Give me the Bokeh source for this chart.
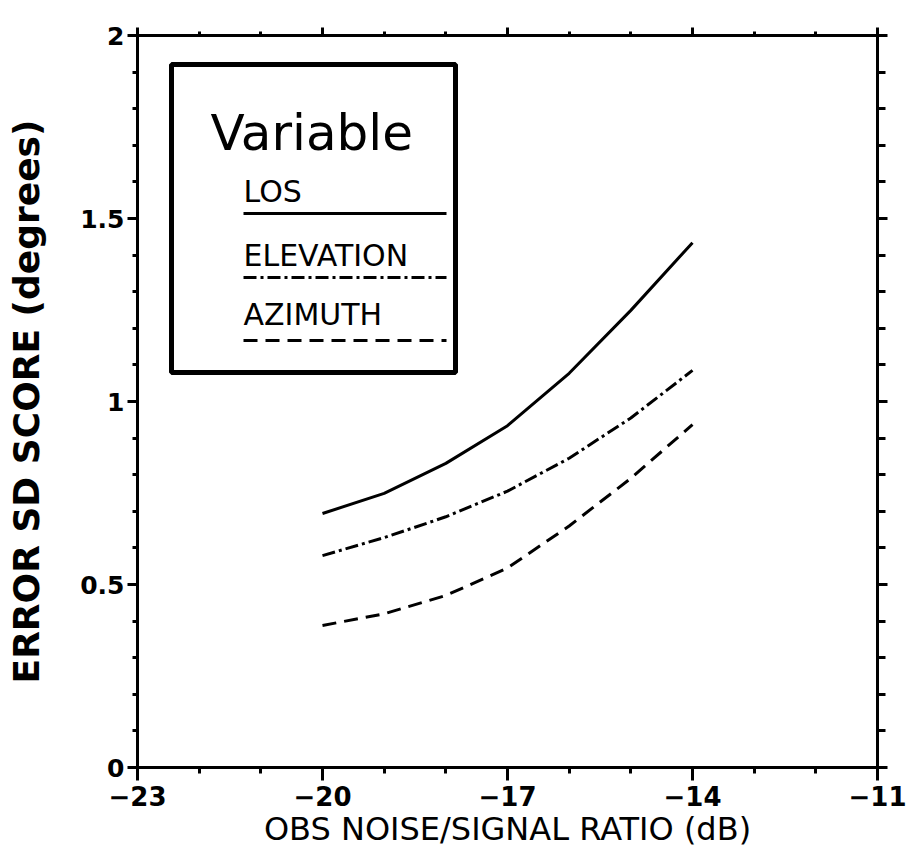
from bokeh.plotting import figure
from bokeh.models import LinearAxis, Range1d, FixedTicker, Label, BoxAnnotation
from bokeh.embed import file_html
from bokeh.resources import INLINE

# ---- data ----
noise_db = [-20, -19, -18, -17, -16, -15, -14]
los = [0.694, 0.749, 0.831, 0.934, 1.077, 1.249, 1.434]
elevation = [0.579, 0.628, 0.685, 0.755, 0.845, 0.955, 1.085]
azimuth = [0.388, 0.420, 0.470, 0.545, 0.660, 0.790, 0.937]

x_ticks = [-23, -20, -17, -14, -11]
x_tick_labels = ["\u221223", "\u221220", "\u221217", "\u221214", "\u221211"]
y_ticks = [0, 0.5, 1, 1.5, 2]
y_tick_labels = ["0", "0.5", "1", "1.5", "2"]
legend_title = "Variable"
legend_names = ["LOS", "ELEVATION", "AZIMUTH"]
legend_dashes = ["solid", "13 4 3 4", "14 8"]

FONT = "DejaVu Sans"

p = figure(width=906, height=854, output_backend="svg", toolbar_location=None,
           x_range=Range1d(-23, -11), y_range=Range1d(0, 2),
           x_axis_location=None, y_axis_location=None,
           min_border_left=137, min_border_right=29,
           min_border_top=35, min_border_bottom=87)
p.background_fill_color = "white"
p.border_fill_color = "white"
p.outline_line_color = "black"
p.outline_line_width = 3
p.xgrid.visible = False
p.ygrid.visible = False


def style_axis(ax, major_out, minor_out):
    ax.axis_line_width = 3
    ax.axis_line_color = "black"
    ax.major_tick_line_width = 3
    ax.minor_tick_line_width = 3
    ax.major_tick_in = 0
    ax.minor_tick_in = 0
    ax.major_tick_out = major_out
    ax.minor_tick_out = minor_out
    ax.major_label_text_font = FONT
    ax.major_label_text_font_style = "bold"
    ax.major_label_text_color = "black"


xt = FixedTicker(ticks=x_ticks, minor_ticks=list(range(-23, -10)))
yt = FixedTicker(ticks=y_ticks, minor_ticks=[i / 10 for i in range(0, 21)])

bottom = LinearAxis(ticker=xt)
style_axis(bottom, 13, 6)
bottom.major_label_overrides = dict(zip(x_ticks, x_tick_labels))
bottom.major_label_text_font_size = "26px"
bottom.major_label_standoff = 5
bottom.axis_label = "OBS NOISE/SIGNAL RATIO (dB)"
bottom.axis_label_text_font = FONT
bottom.axis_label_text_font_style = "normal"
bottom.axis_label_text_font_size = "32px"
bottom.axis_label_text_color = "black"
bottom.axis_label_standoff = 1
p.add_layout(bottom, "below")

left = LinearAxis(ticker=yt)
style_axis(left, 10, 5)
left.major_label_overrides = dict(zip(y_ticks, y_tick_labels))
left.major_label_text_font_size = "25px"
left.major_label_standoff = 3
left.axis_label = "ERROR SD SCORE (degrees)"
left.axis_label_text_font = FONT
left.axis_label_text_font_style = "bold"
left.axis_label_text_font_size = "36px"
left.axis_label_text_color = "black"
left.axis_label_standoff = 30
p.add_layout(left, "left")

top = LinearAxis(ticker=xt)
style_axis(top, 8, 4)
top.major_label_overrides = {t: "" for t in x_ticks}
p.add_layout(top, "above")

right = LinearAxis(ticker=yt)
style_axis(right, 10, 8)
right.major_label_overrides = {t: "" for t in y_ticks}
p.add_layout(right, "right")

# ---- legend box (positions given in pixels, converted to data space) ----
def px2x(px):
    return -23 + (px - 137) * 12 / 740.0


def py2y(py):
    return (767 - py) * 2 / 732.0


p.add_layout(BoxAnnotation(left=px2x(171), right=px2x(455), top=py2y(64), bottom=py2y(372),
                           fill_color="white", fill_alpha=0.0, line_color="black",
                           line_alpha=1.0, line_width=5, level="underlay"))
p.add_layout(Label(x=px2x(210), y=py2y(132), text=legend_title, text_font=FONT,
                   text_font_size="50px", text_color="black",
                   text_align="left", text_baseline="alphabetic"))

label_base = [191, 255, 314]
line_y = [213, 277, 340]
for name, dash, by, ly in zip(legend_names, legend_dashes, label_base, line_y):
    p.add_layout(Label(x=px2x(243), y=py2y(by), text=name, text_font=FONT,
                       text_font_size="30px", text_color="black",
                       text_align="left", text_baseline="alphabetic"))
    p.line([px2x(243), px2x(446)], [py2y(ly), py2y(ly)], line_color="black",
           line_width=3, line_dash=dash)

# ---- curves ----
p.line(noise_db, los, line_color="black", line_width=3, line_dash=legend_dashes[0])
p.line(noise_db, elevation, line_color="black", line_width=3, line_dash=legend_dashes[1])
p.line(noise_db, azimuth, line_color="black", line_width=3, line_dash=legend_dashes[2])

open("out.html", "w").write(file_html(p, INLINE))
